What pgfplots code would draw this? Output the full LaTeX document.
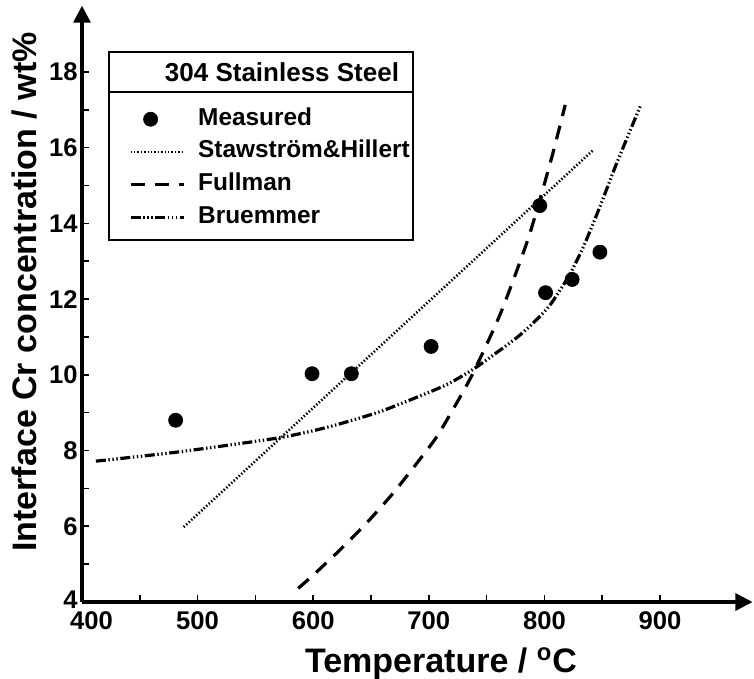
\documentclass[border=0pt]{standalone}
\usepackage{fontspec}
\setmainfont{Liberation Sans}
\usepackage{pgfplots}
\pgfplotsset{compat=1.18}
\usetikzlibrary{arrows.meta}
\pgfplotsset{
  lineleg/.style={legend image code/.code={\draw[##1] (0pt,0pt) -- (26.5pt,0pt);}},
  markleg/.style={legend image code/.code={\draw[##1] plot[only marks] coordinates {(10pt,0pt)}; \path[draw=none,fill=none] (0pt,0pt) (26.5pt,0pt);}},
}
\begin{document}
\begin{tikzpicture}
\useasboundingbox (-41pt,-38.5pt) rectangle (336pt,301pt);
\begin{axis}[
  at={(0pt,0pt)}, anchor=south west,
  x=0.578pt, y=18.93pt,
  xmin=400, xmax=980, ymin=4, ymax=19.75,
  axis lines=left,
  axis line style={line width=1.6pt, -{Triangle[length=8.5pt,width=8.5pt]}},
  xtick={400,500,...,900}, minor xtick={450,550,...,850},
  ytick={4,6,...,18}, minor ytick={5,7,...,17},
  xticklabels={\hspace*{9.5pt}400,500,600,700,800,900},
  yticklabels={\raisebox{2.5pt}{4},6,8,10,12,14,16,18},
  tick align=inside,
  major tick length=3.5pt, minor tick length=3.5pt,
  every tick/.style={black, line width=0.8pt},
  /pgf/number format/assume math mode=true,
  tick label style={font=\fontsize{12.8}{14}\selectfont\bfseries},
  xticklabel style={inner sep=4.5pt},
  yticklabel style={inner sep=2pt},
  xlabel={Temperature / \textsuperscript{o}C},
  ylabel={Interface Cr concentration / wt\%},
  label style={font=\fontsize{17}{20}\selectfont\bfseries},
  xlabel style={at={(axis description cs:0.5354,-0.119)}, anchor=base},
  ylabel style={at={(axis description cs:-0.085,0.52)}, anchor=center},
  clip=false,
  legend cell align=left,
  lineleg,
  legend style={at={(axis description cs:0.0701,0.828)}, anchor=north west,
    draw=none, fill=none, inner sep=0pt, outer sep=0pt,
    font=\fontsize{12.2}{14}\selectfont\bfseries,
    row sep=5.35pt, column sep=6.5pt,
    nodes={inner sep=0pt, text height=8.5pt, text depth=2.5pt}},
]
\addplot[only marks, mark=*, mark size=3.5pt, black, markleg]
  coordinates {(481,8.8) (599,10.03) (633,10.03) (702,10.75) (796,14.47) (801,12.17) (824,12.52) (848,13.24)};
\addlegendentry{Measured}
\addplot[black, line width=1.3pt, dash pattern=on 0.7pt off 1.0pt]
  coordinates {(488,5.98) (842,15.93)};
\addlegendentry{Stawstr\"om\&Hillert}
\addplot[black, line width=1.6pt, dash pattern=on 7pt off 5pt, smooth, tension=0.4]
  coordinates {(587,4.36) (600,4.71) (623,5.37) (646,6.08) (669,6.87) (689.5,7.66) (707,8.37) (724,9.25) (738.5,10.06) (762,11.62) (786,13.6) (805,15.59) (818,17.13)};
\addlegendentry{Fullman}
\addplot[black, line width=1.6pt, dash pattern=on 5pt off 1.3pt on 0.7pt off 1.3pt on 0.7pt off 1.3pt on 0.7pt off 1.3pt, smooth, tension=0.4]
  coordinates {(412,7.72) (485,7.97) (571,8.34) (614,8.63) (658,9.03) (701,9.55) (718,9.78) (741,10.2) (776,10.98) (793,11.45) (805,11.85) (821,12.6) (834,13.4) (848,14.44) (862,15.55) (883,17.1)};
\addlegendentry{Bruemmer}
\end{axis}
\draw[line width=0.8pt] (13.5pt,181pt) rectangle (165.5pt,275pt);
\draw[line width=0.8pt] (13.5pt,255pt) -- (165.5pt,255pt);
\node[font=\fontsize{13}{15}\selectfont\bfseries] at (100pt,265pt) {304 Stainless Steel};
\end{tikzpicture}
\end{document}
